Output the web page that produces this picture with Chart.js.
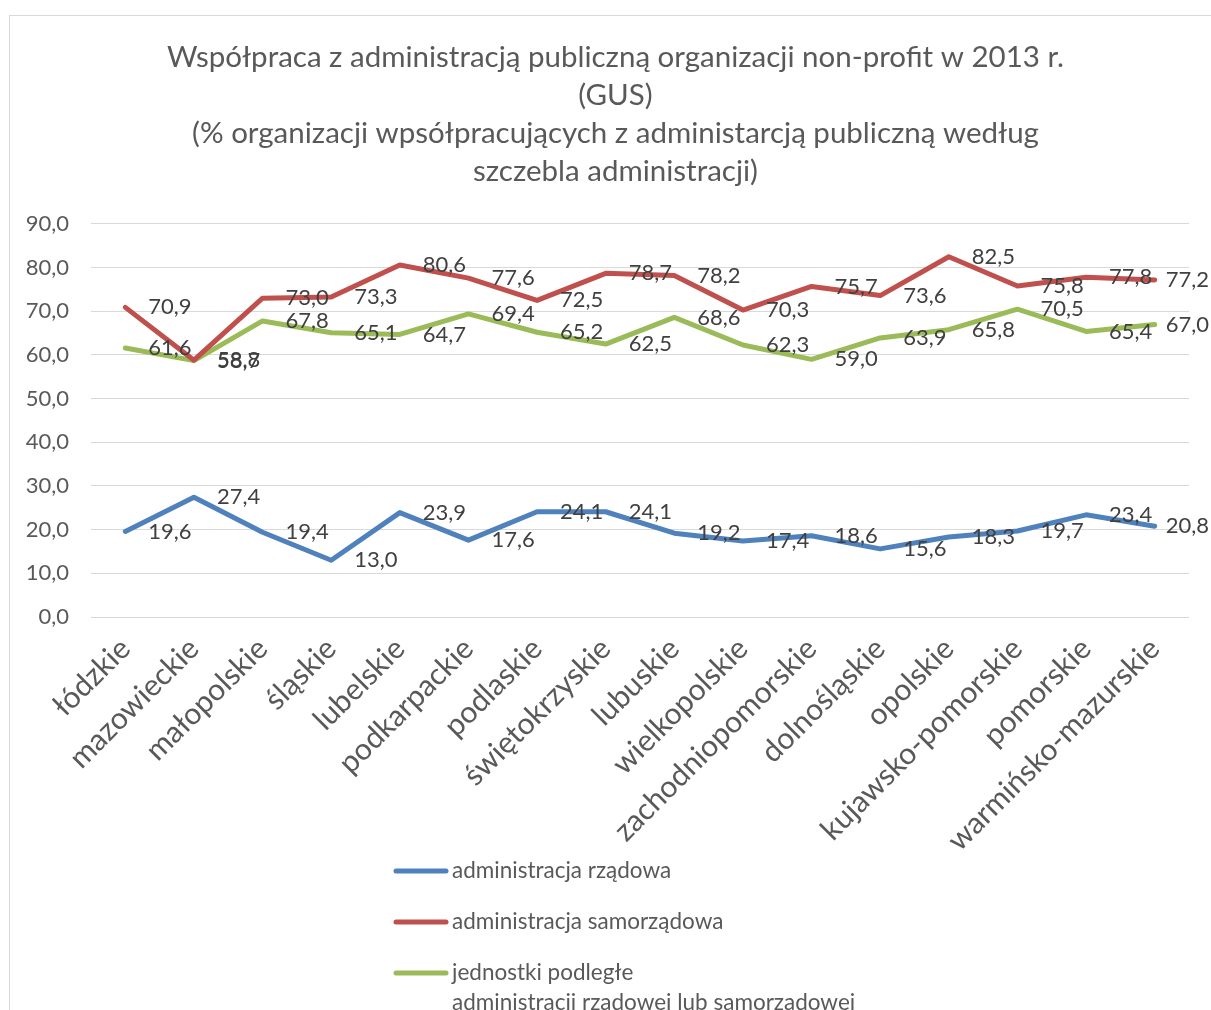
<!DOCTYPE html>
<html>
<head>
<meta charset="utf-8">
<script src="https://cdn.jsdelivr.net/npm/chart.js@4.4.1/dist/chart.umd.min.js"></script>
<style>
  html, body { margin: 0; padding: 0; background: #ffffff; }
  #wrap { position: relative; width: 1211px; height: 1010px; overflow: hidden; }
  #frame { position: absolute; left: 9px; top: 15px; width: 1260px; height: 1060px; border: 1px solid #d9d9d9; box-sizing: border-box; }
  canvas { position: absolute; left: 0; top: 0; }
</style>
</head>
<body>
<div id="wrap">
  <div id="frame"></div>
  <canvas id="c" width="1211" height="1010"></canvas>
</div>
<script>
const categories = ["łódzkie", "mazowieckie", "małopolskie", "śląskie", "lubelskie", "podkarpackie", "podlaskie", "świętokrzyskie", "lubuskie", "wielkopolskie", "zachodniopomorskie", "dolnośląskie", "opolskie", "kujawsko-pomorskie", "pomorskie", "warmińsko-mazurskie"];
const rzadowa = [19.6, 27.4, 19.4, 13.0, 23.9, 17.6, 24.1, 24.1, 19.2, 17.4, 18.6, 15.6, 18.3, 19.7, 23.4, 20.8];
const samorzadowa = [70.9, 58.8, 73.0, 73.3, 80.6, 77.6, 72.5, 78.7, 78.2, 70.3, 75.7, 73.6, 82.5, 75.8, 77.8, 77.2];
const jednostki = [61.6, 58.7, 67.8, 65.1, 64.7, 69.4, 65.2, 62.5, 68.6, 62.3, 59.0, 63.9, 65.8, 70.5, 65.4, 67.0];
const seriesNames = ["administracja rządowa", "administracja samorządowa", ["jednostki podległe", "administracji rządowej lub samorządowej"]];
const titleLines = ["Współpraca z administracją publiczną organizacji non-profit w 2013 r.", "(GUS)", "(% organizacji wpsółpracujących z administarcją publiczną według", "szczebla administracji)"];
const yMin = 0, yMax = 90, yStep = 10;

const FONT = "Lato, 'Open Sans', sans-serif";
const fmt = v => v.toFixed(1).replace('.', ',');

const dataLabels = {
  id: 'dataLabels',
  afterDatasetsDraw(chart) {
    const ctx = chart.ctx;
    ctx.save();
    ctx.font = "22px " + FONT;
    ctx.fillStyle = '#404040';
    ctx.textAlign = 'left';
    ctx.textBaseline = 'middle';
    chart.data.datasets.forEach((ds, i) => {
      const meta = chart.getDatasetMeta(i);
      meta.data.forEach((pt, j) => {
        const t = fmt(ds.data[j]);
        const w = ctx.measureText(t).width;
        const x = Math.min(pt.x + 23, chart.width - w - 2);
        ctx.fillText(t, x, pt.y);
      });
    });
    ctx.restore();
  }
};

const customLegend = {
  id: 'customLegend',
  afterDraw(chart) {
    const ctx = chart.ctx;
    ctx.save();
    ctx.font = "22.5px " + FONT;
    ctx.fillStyle = '#595959';
    ctx.textAlign = 'left';
    ctx.textBaseline = 'middle';
    const x0 = 396, x1 = 446, tx = 452;
    const ys = [871, 922, 973];
    chart.data.datasets.forEach((ds, i) => {
      const y = ys[i];
      ctx.strokeStyle = ds.borderColor;
      ctx.lineWidth = 5;
      ctx.lineCap = 'round';
      ctx.beginPath(); ctx.moveTo(x0, y); ctx.lineTo(x1, y); ctx.stroke();
      const lines = Array.isArray(ds.label) ? ds.label : [ds.label];
      lines.forEach((t, k) => ctx.fillText(t, tx, y + k * 30));
    });
    ctx.restore();
  }
};

new Chart(document.getElementById('c'), {
  type: 'line',
  data: {
    labels: categories,
    datasets: [
      { label: seriesNames[0], data: rzadowa, borderColor: '#4F81BD', backgroundColor: '#4F81BD' },
      { label: seriesNames[1], data: samorzadowa, borderColor: '#C0504D', backgroundColor: '#C0504D' },
      { label: seriesNames[2], data: jednostki, borderColor: '#9BBB59', backgroundColor: '#9BBB59' }
    ]
  },
  options: {
    responsive: false,
    animation: false,
    layout: { padding: { left: 20, right: 0, top: 38, bottom: 150 } },
    elements: {
      line: { borderWidth: 5, tension: 0, borderCapStyle: 'round', borderJoinStyle: 'round' },
      point: { radius: 0, hoverRadius: 0 }
    },
    plugins: {
      legend: { display: false },
      tooltip: { enabled: false },
      title: {
        display: true,
        text: titleLines,
        color: '#595959',
        font: { family: FONT, size: 29.5, weight: 'normal', lineHeight: 1.288 },
        padding: { top: 0, bottom: 34 }
      }
    },
    scales: {
      x: {
        offset: true,
        grid: { display: false },
        border: { display: false },
        ticks: { color: '#595959', font: { family: FONT, size: 30 }, maxRotation: 45, minRotation: 45, autoSkip: false, padding: 6 },
        afterFit: s => { s.height = 243; }
      },
      y: {
        min: yMin, max: yMax,
        grid: { color: '#d9d9d9', lineWidth: 1, drawTicks: false },
        border: { display: false },
        ticks: { stepSize: yStep, color: '#595959', font: { family: FONT, size: 22 }, padding: 22, callback: v => fmt(v) },
        afterFit: s => { s.width = 71; }
      },
      y2: {
        position: 'right',
        display: true,
        grid: { display: false },
        border: { display: false },
        ticks: { display: false },
        afterFit: s => { s.width = 22; }
      }
    }
  },
  plugins: [dataLabels, customLegend]
});
</script>
</body>
</html>
